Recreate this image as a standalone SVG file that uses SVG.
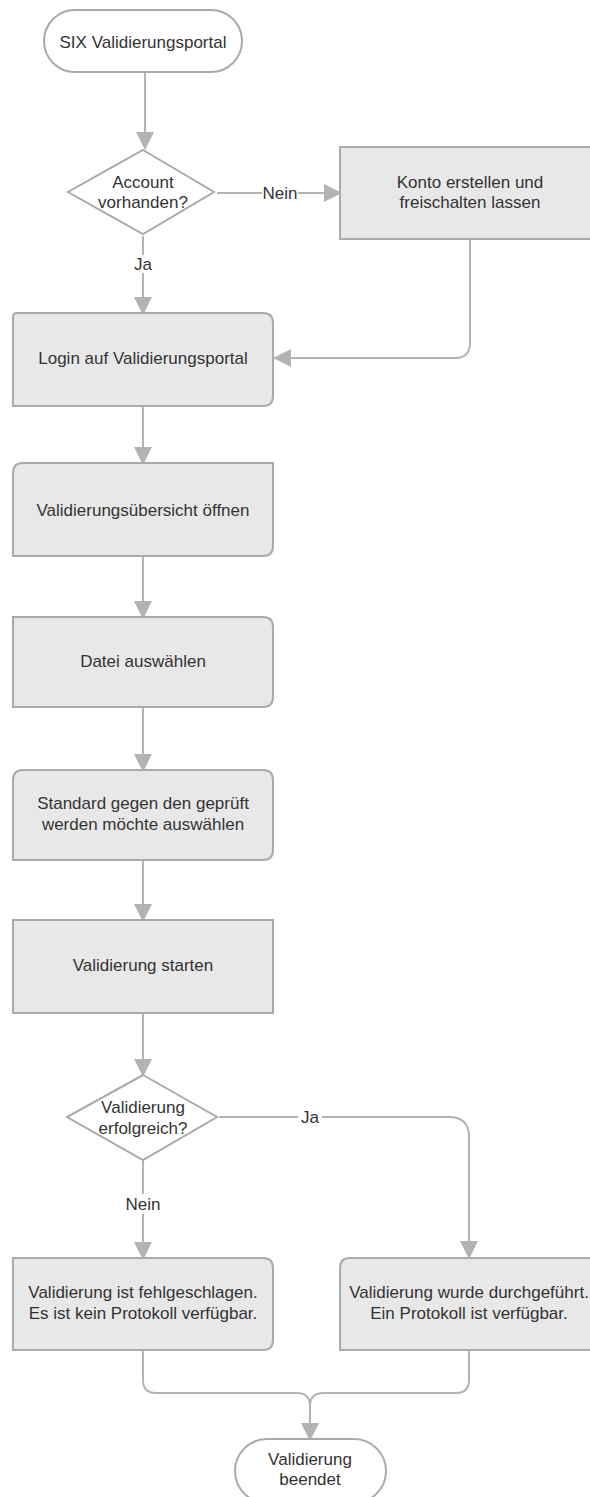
<svg xmlns="http://www.w3.org/2000/svg" width="590" height="1497" viewBox="0 0 590 1497">
<style>
.box{fill:#e8e8e8;stroke:#aaaaaa;stroke-width:2}
.term{fill:#ffffff;stroke:#aaaaaa;stroke-width:2}
.t{font-family:"Liberation Sans",Arial,sans-serif;font-size:17px;fill:#333333;text-anchor:middle}
.c{fill:none;stroke:#b3b3b3;stroke-width:2}
.lb{fill:#ffffff}
</style>
<defs>
<marker id="ah" markerUnits="userSpaceOnUse" markerWidth="18" markerHeight="18" viewBox="0 0 18 18" refX="17" refY="9" orient="auto">
<path d="M0,0 L18,9 L0,18 Z" fill="#b3b3b3"/>
</marker>
</defs>
<rect width="590" height="1497" fill="#ffffff"/>
<g id="connectors">
<path class="c" d="M145,72 V149" marker-end="url(#ah)"/>
<path class="c" d="M217,193 H341" marker-end="url(#ah)"/>
<path class="c" d="M143,236 V314" marker-end="url(#ah)"/>
<path class="c" d="M470,239 V343 Q470,358 455,358 H274" marker-end="url(#ah)"/>
<path class="c" d="M143,406 V464" marker-end="url(#ah)"/>
<path class="c" d="M143,556 V618" marker-end="url(#ah)"/>
<path class="c" d="M143,707 V771" marker-end="url(#ah)"/>
<path class="c" d="M143,860 V921" marker-end="url(#ah)"/>
<path class="c" d="M143,1013 V1076" marker-end="url(#ah)"/>
<path class="c" d="M219,1117 H449 Q469,1117 469,1137 V1258" marker-end="url(#ah)"/>
<path class="c" d="M143,1160 V1259" marker-end="url(#ah)"/>
<path class="c" d="M143,1350 V1380 Q143,1393 156,1393 H297 Q310,1393 310,1406 V1440" marker-end="url(#ah)"/>
<path class="c" d="M469,1350 V1380 Q469,1393 456,1393 H323 Q310,1393 310,1406"/>
<rect class="lb" x="262" y="183" width="36" height="20"/>
<text class="t" x="280" y="199">Nein</text>
<rect class="lb" x="131" y="255" width="24" height="18"/>
<text class="t" x="143" y="270">Ja</text>
<rect class="lb" x="298" y="1107" width="24" height="20"/>
<text class="t" x="310" y="1123">Ja</text>
<rect class="lb" x="125" y="1194" width="36" height="20"/>
<text class="t" x="143" y="1210">Nein</text>
</g>
<g id="start">
<rect class="term" x="44" y="10" width="198" height="62" rx="31"/>
<text class="t" x="143" y="48">SIX Validierungsportal</text>
</g>
<g id="account">
<path class="term" d="M143,150 L214,192 L143,234 L68,192 Z"/>
<text class="t" x="143" y="188">Account</text>
<text class="t" x="143" y="208">vorhanden?</text>
</g>
<g id="konto">
<rect class="box" x="340" y="147" width="262" height="92"/>
<text class="t" x="470" y="188">Konto erstellen und</text>
<text class="t" x="470" y="208">freischalten lassen</text>
</g>
<g id="login">
<path class="box" d="M17,313 H263 Q273,313 273,323 V396 Q273,406 263,406 H13 V317 Q13,313 17,313 Z"/>
<text class="t" x="143" y="364">Login auf Validierungsportal</text>
</g>
<g id="uebersicht">
<path class="box" d="M23,463 H273 V546 Q273,556 263,556 H13 V473 Q13,463 23,463 Z"/>
<text class="t" x="143" y="516">Validierungsübersicht öffnen</text>
</g>
<g id="datei">
<path class="box" d="M13,617 H263 Q273,617 273,627 V697 Q273,707 263,707 H13 Z"/>
<text class="t" x="143" y="667">Datei auswählen</text>
</g>
<g id="standard">
<path class="box" d="M23,770 H263 Q273,770 273,780 V850 Q273,860 263,860 H13 V780 Q13,770 23,770 Z"/>
<text class="t" x="143" y="809">Standard gegen den geprüft</text>
<text class="t" x="143" y="830">werden möchte auswählen</text>
</g>
<g id="starten">
<rect class="box" x="13" y="920" width="260" height="93"/>
<text class="t" x="143" y="971">Validierung starten</text>
</g>
<g id="erfolgreich">
<path class="term" d="M143,1075 L217,1117 L143,1160 L67,1117 Z"/>
<text class="t" x="143" y="1113">Validierung</text>
<text class="t" x="143" y="1134">erfolgreich?</text>
</g>
<g id="fehlgeschlagen">
<path class="box" d="M13,1258 H263 Q273,1258 273,1268 V1340 Q273,1350 263,1350 H13 Z"/>
<text class="t" x="143" y="1298">Validierung ist fehlgeschlagen.</text>
<text class="t" x="143" y="1319">Es ist kein Protokoll verfügbar.</text>
</g>
<g id="durchgefuehrt">
<path class="box" d="M350,1258 H602 V1350 H340 V1268 Q340,1258 350,1258 Z"/>
<text class="t" x="469" y="1298">Validierung wurde durchgeführt.</text>
<text class="t" x="469" y="1319">Ein Protokoll ist verfügbar.</text>
</g>
<g id="ende">
<rect class="term" x="235" y="1439" width="151" height="64" rx="32"/>
<text class="t" x="310" y="1465">Validierung</text>
<text class="t" x="310" y="1485">beendet</text>
</g>
</svg>
